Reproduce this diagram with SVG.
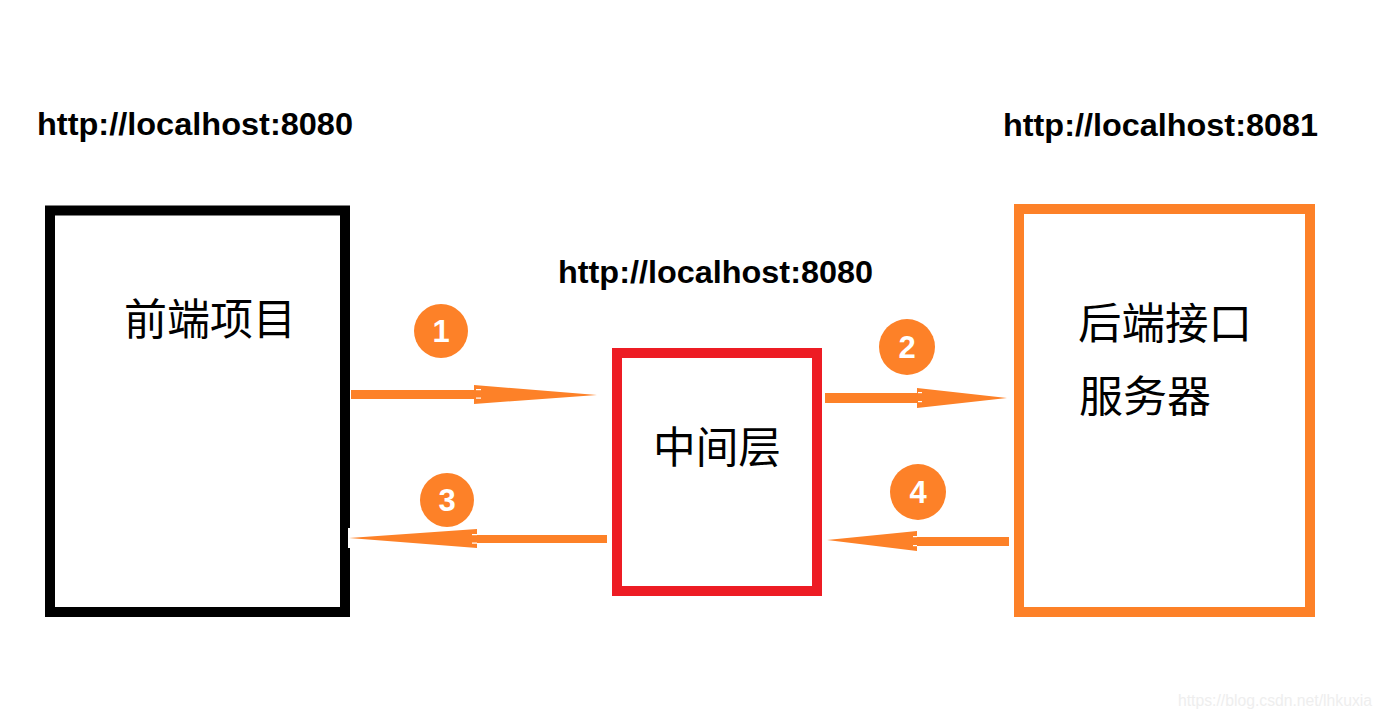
<svg xmlns="http://www.w3.org/2000/svg" width="1382" height="719" viewBox="0 0 1382 719">
<style>
.url{font-family:"Liberation Sans",Arial,sans-serif;font-weight:bold;font-size:31px;fill:#000}
.cjk{font-family:"Noto Sans CJK SC","Noto Sans",sans-serif;font-size:43px;fill:#000}
.num{font-family:"Liberation Sans",Arial,sans-serif;font-weight:bold;font-size:31px;fill:#fff;text-anchor:middle}
.arrow{fill:#FD8128}
.badge{fill:#FD8128}
.tick{fill:#fff}
</style>
<rect width="1382" height="719" fill="#fff"/>
<text class="url" x="37" y="135" textLength="316" lengthAdjust="spacingAndGlyphs">http://localhost:8080</text>
<text class="url" x="1003" y="136" textLength="315" lengthAdjust="spacingAndGlyphs">http://localhost:8081</text>
<text class="url" x="558" y="283" textLength="315" lengthAdjust="spacingAndGlyphs">http://localhost:8080</text>
<g id="frontend">
<rect x="50" y="210.5" width="295" height="401.5" fill="none" stroke="#000" stroke-width="10"/>
<text class="cjk" x="124" y="335" textLength="172" lengthAdjust="spacingAndGlyphs">前端项目</text>
</g>
<g id="middle">
<rect x="617" y="353" width="200" height="238" fill="none" stroke="#ED1C24" stroke-width="10"/>
<text class="cjk" x="653" y="463" textLength="128" lengthAdjust="spacingAndGlyphs">中间层</text>
</g>
<g id="backend">
<rect x="1019" y="209" width="291" height="403" fill="none" stroke="#FD8128" stroke-width="10"/>
<text class="cjk" x="1078" y="339" textLength="174" lengthAdjust="spacingAndGlyphs">后端接口</text>
<text class="cjk" x="1079" y="412" textLength="132" lengthAdjust="spacingAndGlyphs">服务器</text>
</g>
<g id="connectors">
<rect x="348" y="528" width="6" height="20" fill="#fff"/>
<polygon class="arrow" points="351,390 474,390 474,385 597,395 474,404 474,399 351,399"/>
<rect class="tick" x="476" y="389" width="5" height="1.2"/>
<rect class="tick" x="476" y="397.5" width="5" height="1.2"/>
<polygon class="arrow" points="825,393 917,393 917,388 1007,398 917,408 917,403 825,403"/>
<rect class="tick" x="918" y="392" width="4" height="1.2"/>
<rect class="tick" x="918" y="401" width="4" height="1.2"/>
<polygon class="arrow" points="607,535 477,535 477,529 349,538 477,548 477,543 607,543"/>
<rect class="tick" x="472" y="534" width="5" height="1.2"/>
<rect class="tick" x="472" y="542.5" width="5" height="1.2"/>
<polygon class="arrow" points="1009,537 917,537 917,531 827,540 917,551 917,546 1009,546"/>
<rect class="tick" x="913" y="536" width="4" height="1.2"/>
<rect class="tick" x="913" y="545" width="4" height="1.2"/>
</g>
<g id="badge1"><circle class="badge" cx="441" cy="331" r="27"/><text class="num" x="441" y="342">1</text></g>
<g id="badge2"><circle class="badge" cx="907" cy="347" r="28"/><text class="num" x="907" y="358">2</text></g>
<g id="badge3"><circle class="badge" cx="447" cy="500" r="27"/><text class="num" x="447" y="511">3</text></g>
<g id="badge4"><circle class="badge" cx="918" cy="492" r="28"/><text class="num" x="918" y="503">4</text></g>
<text x="1178" y="706" font-family="Liberation Sans, Arial, sans-serif" font-size="16" fill="#EEEEEE" textLength="194" lengthAdjust="spacingAndGlyphs">https://blog.csdn.net/lhkuxia</text>
</svg>
